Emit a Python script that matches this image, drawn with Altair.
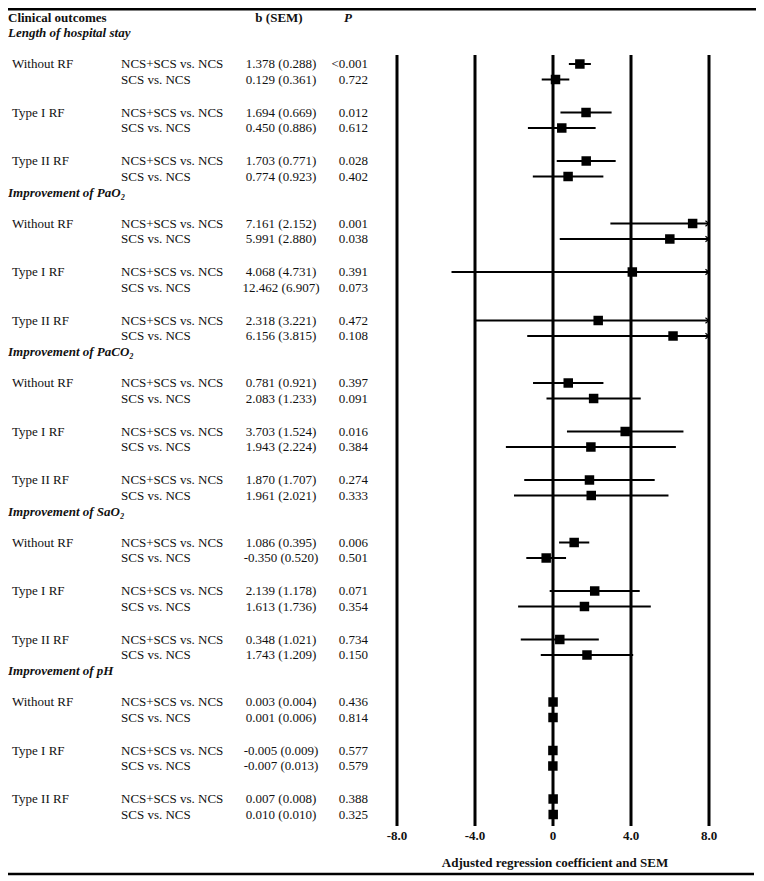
import altair as alt
import pandas as pd

# ---------------- data ----------------
outcomes = ["Length of hospital stay", "Improvement of PaO\u2082", "Improvement of PaCO\u2082",
            "Improvement of SaO\u2082", "Improvement of pH"]
subgroups = ["Without RF", "Type I RF", "Type II RF"]
comparisons = ["NCS+SCS vs. NCS", "SCS vs. NCS"]

b_values = [1.378, 0.129, 1.694, 0.450, 1.703, 0.774,
            7.161, 5.991, 4.068, 12.462, 2.318, 6.156,
            0.781, 2.083, 3.703, 1.943, 1.870, 1.961,
            1.086, -0.350, 2.139, 1.613, 0.348, 1.743,
            0.003, 0.001, -0.005, -0.007, 0.007, 0.010]
sem_values = [0.288, 0.361, 0.669, 0.886, 0.771, 0.923,
              2.152, 2.880, 4.731, 6.907, 3.221, 3.815,
              0.921, 1.233, 1.524, 2.224, 1.707, 2.021,
              0.395, 0.520, 1.178, 1.736, 1.021, 1.209,
              0.004, 0.006, 0.009, 0.013, 0.008, 0.010]
p_labels = ["<0.001", "0.722", "0.012", "0.612", "0.028", "0.402",
            "0.001", "0.038", "0.391", "0.073", "0.472", "0.108",
            "0.397", "0.091", "0.016", "0.384", "0.274", "0.333",
            "0.006", "0.501", "0.071", "0.354", "0.734", "0.150",
            "0.436", "0.814", "0.577", "0.579", "0.388", "0.325"]

tick_values = [-8, -4, 0, 4, 8]
tick_labels = ["-8.0", "-4.0", "0", "4.0", "8.0"]
axis_limit = 8

# ---------------- layout ----------------
MARGIN = 8
W, H = 748, 868
FIRST_ROW = 64.0
SECTION_STEP = 159.5
PAIR_STEP = 48.5
ROW_STEP = 15.5
HEADER_OFFSET = 31.0
ZERO_PX = 553 - MARGIN
PX_PER_UNIT = 19.5

FONT = "Liberation Serif"
FS = 13
INK = "#111111"

rows = []
sections = []
for si, outc in enumerate(outcomes):
    first = FIRST_ROW + si * SECTION_STEP
    sections.append({"outcome": outc, "y": first - HEADER_OFFSET - MARGIN})
    for gi, grp in enumerate(subgroups):
        for ci, comp in enumerate(comparisons):
            idx = si * 6 + gi * 2 + ci
            b = b_values[idx]
            s = sem_values[idx]
            lo = b - 1.96 * s
            hi = b + 1.96 * s
            rows.append({
                "outcome": outc,
                "subgroup": grp if ci == 0 else "",
                "comparison": comp,
                "b": b,
                "lo": max(lo, -axis_limit),
                "hi": min(hi, axis_limit),
                "over": hi > axis_limit,
                "bsem": f"{b:.3f} ({s:.3f})",
                "p": p_labels[idx],
                "y": first + gi * PAIR_STEP + ci * ROW_STEP - MARGIN,
            })
df = pd.DataFrame(rows)
sec_df = pd.DataFrame(sections)
plot_df = df[df["b"] <= axis_limit]
arrow_df = plot_df[plot_df["over"]]
tick_df = pd.DataFrame({"t": tick_values, "label": tick_labels})
one = pd.DataFrame({"a": [0]})

xscale = alt.Scale(domain=[-ZERO_PX / PX_PER_UNIT, (W - ZERO_PX) / PX_PER_UNIT],
                   nice=False, zero=False)
yscale = alt.Scale(domain=[0, H], reverse=True, nice=False, zero=False)
Y = alt.Y("y:Q", scale=yscale, axis=None)
HEADER_Y = 10


def txt(**kw):
    base = dict(font=FONT, fontSize=FS, color=INK, baseline="middle")
    base.update(kw)
    return base


top_rule = alt.Chart(one).mark_rule(color="black", strokeWidth=2.5).encode(
    x=alt.value(0), x2=alt.value(W), y=alt.value(1.25))
bottom_rule = alt.Chart(one).mark_rule(color="black", strokeWidth=2.5).encode(
    x=alt.value(0), x2=alt.value(W - 2), y=alt.value(866))

hdr1 = alt.Chart(one).mark_text(**txt(text="Clinical outcomes", align="left", fontWeight="bold")).encode(
    x=alt.value(0), y=alt.value(HEADER_Y))
hdr2 = alt.Chart(one).mark_text(**txt(text="b (SEM)", align="center", fontWeight="bold")).encode(
    x=alt.value(279 - MARGIN), y=alt.value(HEADER_Y))
hdr3 = alt.Chart(one).mark_text(**txt(text="P", align="center", fontWeight="bold", fontStyle="italic")).encode(
    x=alt.value(348 - MARGIN), y=alt.value(HEADER_Y))

sec_text = alt.Chart(sec_df).mark_text(**txt(align="left", fontWeight="bold", fontStyle="italic")).encode(
    x=alt.value(0), y=Y, text="outcome:N")
grp_text = alt.Chart(df[df["subgroup"] != ""]).mark_text(**txt(align="left")).encode(
    x=alt.value(12 - MARGIN), y=Y, text="subgroup:N")
comp_text = alt.Chart(df).mark_text(**txt(align="left")).encode(
    x=alt.value(121 - MARGIN), y=Y, text="comparison:N")
bsem_text = alt.Chart(df).mark_text(**txt(align="center")).encode(
    x=alt.value(281 - MARGIN), y=Y, text="bsem:N")
p_text = alt.Chart(df).mark_text(**txt(align="right")).encode(
    x=alt.value(368 - MARGIN), y=Y, text="p:N")

grid = alt.Chart(tick_df).mark_rule(color="black", strokeWidth=3).encode(
    x=alt.X("t:Q", scale=xscale, axis=None), y=alt.value(55 - MARGIN), y2=alt.value(826 - MARGIN))
tick_text = alt.Chart(tick_df).mark_text(**txt(align="center", fontWeight="bold")).encode(
    x=alt.X("t:Q", scale=xscale, axis=None), y=alt.value(836 - MARGIN), text="label:N")
axis_title = alt.Chart(one).mark_text(
    **txt(text="Adjusted regression coefficient and SEM", align="center", fontWeight="bold")).encode(
    x=alt.value(555 - MARGIN), y=alt.value(863 - MARGIN))

bars = alt.Chart(plot_df).mark_rule(color="black", strokeWidth=2).encode(
    x=alt.X("lo:Q", scale=xscale, axis=None), x2="hi:Q", y=Y)
squares = alt.Chart(plot_df).mark_square(color="black", size=90, opacity=1).encode(
    x=alt.X("b:Q", scale=xscale, axis=None), y=Y)
arrows = alt.Chart(arrow_df).mark_point(
    shape="M-1,-0.8L0,0L-1,0.8", filled=False, stroke="black", strokeWidth=1.2, size=50, opacity=1).encode(
    x=alt.X("hi:Q", scale=xscale, axis=None), y=Y)

chart = alt.layer(
    top_rule, bottom_rule, hdr1, hdr2, hdr3,
    sec_text, grp_text, comp_text, bsem_text, p_text,
    grid, tick_text, axis_title, bars, squares, arrows,
).properties(
    width=W, height=H, padding=0,
    autosize=alt.AutoSizeParams(type="none"),
    background="white",
).configure_view(stroke=None)

chart.save("out.html", embed_options={"renderer": "svg", "actions": False})
